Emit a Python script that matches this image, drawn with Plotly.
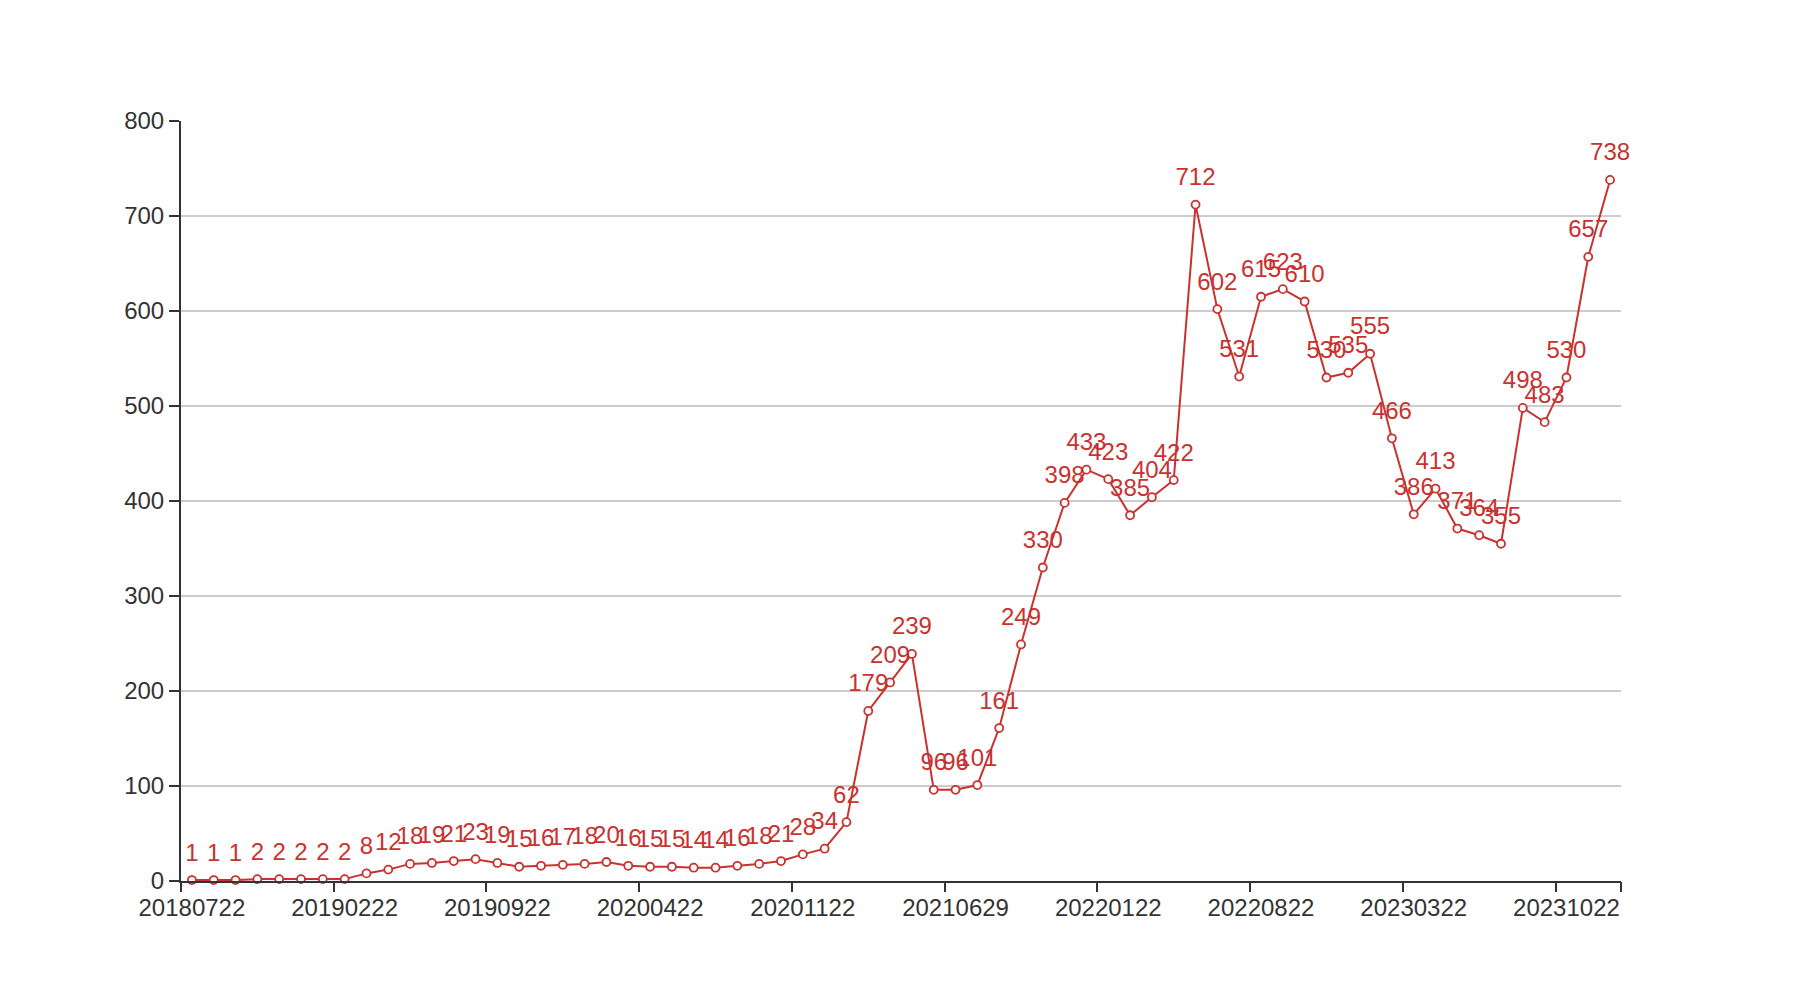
import plotly.graph_objects as go

dates = [
    "20180722", "20180822", "20180922", "20181022", "20181122", "20181222",
    "20190122", "20190222", "20190322", "20190422", "20190522", "20190622",
    "20190722", "20190822", "20190922", "20191022", "20191122", "20191222",
    "20200122", "20200222", "20200322", "20200422", "20200522", "20200622",
    "20200722", "20200822", "20200922", "20201022", "20201122", "20201222",
    "20210122", "20210222", "20210322", "20210422", "20210522", "20210629",
    "20210722", "20210822", "20210922", "20211022", "20211122", "20211222",
    "20220122", "20220222", "20220322", "20220422", "20220522", "20220622",
    "20220722", "20220822", "20220922", "20221022", "20221122", "20221222",
    "20230122", "20230222", "20230322", "20230422", "20230522", "20230622",
    "20230722", "20230822", "20230922", "20231022", "20231122", "20231222",
]
values = [
    1, 1, 1, 2, 2, 2, 2, 2, 8, 12, 18, 19, 21, 23, 19, 15, 16, 17, 18, 20,
    16, 15, 15, 14, 14, 16, 18, 21, 28, 34, 62, 179, 209, 239, 96, 96, 101,
    161, 249, 330, 398, 433, 423, 385, 404, 422, 712, 602, 531, 615, 623, 610,
    530, 535, 555, 466, 386, 413, 371, 364, 355, 498, 483, 530, 657, 738,
]
y_ticks = [0, 100, 200, 300, 400, 500, 600, 700, 800]
label_step = 7

RED = "#c8322f"
AXIS = "#333333"
FONT = "Liberation Sans, Arial, sans-serif"
n = len(dates)

fig = go.Figure()
fig.add_trace(go.Scatter(
    x=dates, y=values, mode="lines+markers",
    line=dict(color=RED, width=2),
    marker=dict(symbol="circle", size=8, color="white", line=dict(color=RED, width=1.8)),
    cliponaxis=False, showlegend=False,
))
# value labels (an invisible, larger marker gives the label its offset above the point)
fig.add_trace(go.Scatter(
    x=dates, y=values, mode="markers+text",
    text=[str(v) for v in values], textposition="top center",
    textfont=dict(color=RED, size=24, family=FONT),
    marker=dict(size=20, color="rgba(0,0,0,0)", line=dict(width=0)),
    cliponaxis=False, hoverinfo="skip", showlegend=False,
))
# invisible trace to carry the boundary-tick axis
fig.add_trace(go.Scatter(
    x=list(range(n)), y=values, xaxis="x2", mode="lines",
    line=dict(width=0, color="rgba(0,0,0,0)"), hoverinfo="skip", showlegend=False,
))

boundary_ticks = [i - 0.5 for i in range(0, n, label_step)] + [n - 0.5]

fig.update_layout(
    width=1800, height=1000,
    margin=dict(l=181, r=179, t=121, b=119),
    plot_bgcolor="white", paper_bgcolor="white",
    font=dict(family=FONT, size=24, color=AXIS),
    xaxis=dict(
        type="category", range=[-0.5, n - 0.5],
        tickmode="array", tickvals=dates[::label_step], ticktext=dates[::label_step],
        ticks="outside", ticklen=4, tickcolor="rgba(0,0,0,0)",
        tickangle=0,
        showline=True, linecolor=AXIS, linewidth=2, showgrid=False,
        tickfont=dict(size=24, color=AXIS),
    ),
    xaxis2=dict(
        overlaying="x", anchor="y", side="bottom", range=[-0.5, n - 0.5],
        tickmode="array", tickvals=boundary_ticks, showticklabels=False,
        ticks="outside", ticklen=10, tickwidth=2, tickcolor=AXIS,
        showline=False, showgrid=False, zeroline=False,
    ),
    yaxis=dict(
        range=[0, 800], tickvals=y_ticks, ticks="outside", ticklen=10, tickwidth=2,
        tickcolor=AXIS,
        showline=True, linecolor=AXIS, linewidth=2,
        showgrid=True, gridcolor="#cccccc", gridwidth=1.5, zeroline=False,
        tickfont=dict(size=24, color=AXIS),
    ),
)

fig.write_html("out.html")
